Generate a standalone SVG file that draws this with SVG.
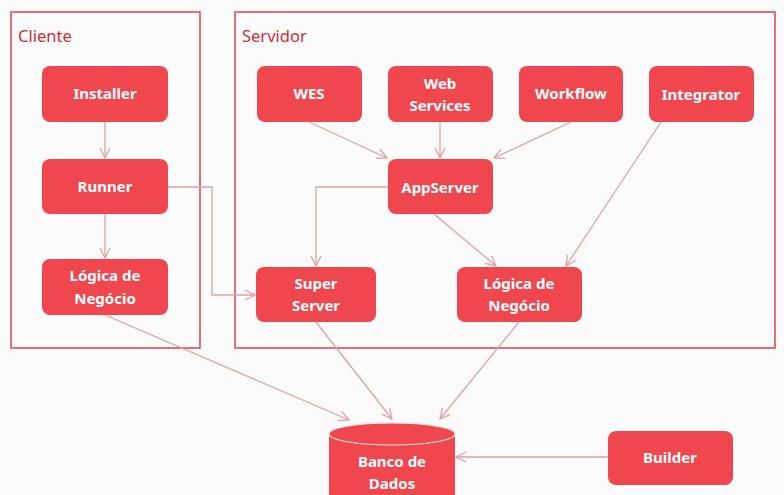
<svg xmlns="http://www.w3.org/2000/svg" width="784" height="495" viewBox="0 0 784 495">
<defs>
<marker id="arr" viewBox="0 0 12 12" refX="11" refY="6" markerWidth="12" markerHeight="12" markerUnits="userSpaceOnUse" orient="auto">
<path d="M1,1 L11,6 L1,11" fill="none" stroke="#dca2a4" stroke-width="1.3"/>
</marker>
<style>
.frame{fill:none;stroke:#d9434d;stroke-width:1.5}
.flabel{font-family:"Noto Sans","Liberation Sans",sans-serif;font-size:16.5px;fill:#c8303c}
.node{fill:#f0474f;stroke:none}
.t{font-family:"Noto Sans","Liberation Sans",sans-serif;font-size:15px;font-weight:bold;fill:#ffffff;text-anchor:middle}
.c{fill:none;stroke:#dca2a4;stroke-width:1.3;marker-end:url(#arr)}
</style>
</defs>
<rect width="784" height="495" fill="#fcfbfb"/>
<g id="cliente-frame"><rect class="frame" x="11" y="12" width="189" height="336"/><text class="flabel" x="18" y="42">Cliente</text></g>
<g id="servidor-frame"><rect class="frame" x="235" y="12" width="540" height="336"/><text class="flabel" x="242" y="42">Servidor</text></g>
<g id="connectors">
<line class="c" x1="105" y1="122" x2="105" y2="158"/>
<line class="c" x1="105" y1="214" x2="105" y2="258"/>
<polyline class="c" points="168,187 212,187 212,295 255,295"/>
<line class="c" x1="309" y1="122" x2="387" y2="158"/>
<line class="c" x1="440" y1="122" x2="440" y2="158"/>
<line class="c" x1="571" y1="122" x2="494" y2="158"/>
<line class="c" x1="661" y1="122" x2="566" y2="266"/>
<polyline class="c" points="388,187 316,187 316,266"/>
<line class="c" x1="434" y1="214" x2="496" y2="266"/>
<line class="c" x1="105" y1="315" x2="349" y2="420"/>
<line class="c" x1="316" y1="322" x2="392" y2="419"/>
<line class="c" x1="519" y1="322" x2="440" y2="419"/>
<line class="c" x1="608" y1="457" x2="456" y2="457"/>
</g>
<g id="installer"><rect class="node" x="42" y="66" width="126" height="56" rx="8"/><text class="t" x="105" y="99">Installer</text></g>
<g id="runner"><rect class="node" x="42" y="159" width="126" height="55" rx="8"/><text class="t" x="105" y="192">Runner</text></g>
<g id="logica-cliente"><rect class="node" x="42" y="259" width="126" height="56" rx="8"/><text class="t" x="105" y="281">Lógica de</text><text class="t" x="105" y="304">Negócio</text></g>
<g id="wes"><rect class="node" x="257" y="66" width="105" height="56" rx="8"/><text class="t" x="309" y="99">WES</text></g>
<g id="web-services"><rect class="node" x="388" y="66" width="105" height="56" rx="8"/><text class="t" x="440" y="89">Web</text><text class="t" x="440" y="111">Services</text></g>
<g id="workflow"><rect class="node" x="519" y="66" width="104" height="56" rx="8"/><text class="t" x="571" y="99">Workflow</text></g>
<g id="integrator"><rect class="node" x="649" y="66" width="105" height="56" rx="8"/><text class="t" x="701" y="100">Integrator</text></g>
<g id="appserver"><rect class="node" x="388" y="159" width="105" height="55" rx="8"/><text class="t" x="440" y="193">AppServer</text></g>
<g id="super-server"><rect class="node" x="256" y="267" width="120" height="55" rx="8"/><text class="t" x="316" y="289">Super</text><text class="t" x="316" y="311">Server</text></g>
<g id="logica-servidor"><rect class="node" x="457" y="267" width="125" height="55" rx="8"/><text class="t" x="519" y="289">Lógica de</text><text class="t" x="519" y="311">Negócio</text></g>
<g id="banco"><path class="node" d="M329,434 L329,494 A63,11 0 0 0 455,494 L455,434 Z"/><ellipse cx="392" cy="434" rx="63" ry="11" fill="#f0474f" stroke="#fbe0e1" stroke-width="1.2"/><text class="t" x="392" y="467">Banco de</text><text class="t" x="392" y="489">Dados</text></g>
<g id="builder"><rect class="node" x="608" y="431" width="125" height="54" rx="8"/><text class="t" x="670" y="463">Builder</text></g>
</svg>
